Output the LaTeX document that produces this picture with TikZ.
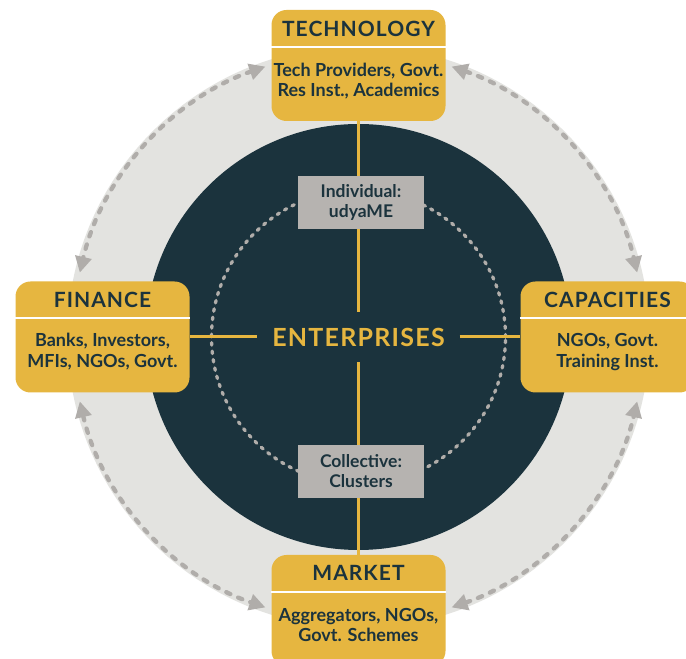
\documentclass[tikz,border=0pt]{standalone}
\usepackage{fontspec}
\setmainfont{Lato}
\newfontfamily\titlefont[LetterSpace=5]{Lato}
\newfontfamily\entfont[LetterSpace=5]{Lato}
\usetikzlibrary{arrows.meta}
\definecolor{darkc}{HTML}{1B333D}
\definecolor{yellowc}{HTML}{E6B640}
\definecolor{ringc}{HTML}{E3E3E0}
\definecolor{graybox}{HTML}{B6B3B0}
\definecolor{dashc}{HTML}{B0ADAA}
\begin{document}
\begin{tikzpicture}[x=1pt,y=1pt,
  mainbox/.style={fill=yellowc, rounded corners=15pt, minimum width=174pt, minimum height=111pt, inner sep=0pt},
  titletext/.style={text=darkc, font=\titlefont\bfseries\fontsize{21}{24}\selectfont, inner sep=0pt},
  bodytext/.style={text=darkc, font=\bfseries\fontsize{18}{20.5}\selectfont, align=center, inner sep=0pt},
  sepline/.style={draw=white, line width=2pt},
  subbox/.style={fill=graybox, minimum width=126pt, minimum height=53pt, inner sep=0pt, text=darkc, font=\bfseries\fontsize{17.5}{20}\selectfont, align=center},
  crossline/.style={draw=yellowc, line width=3pt},
  innerdash/.style={draw=dashc, line width=3.3pt, line cap=round, dash pattern=on 2.5pt off 6pt},
  arrowarc/.style={draw=dashc, line width=4.3pt, line cap=round, dash pattern=on 4.5pt off 8.5pt,
    {Triangle[length=16pt,width=16pt,fill=dashc]}-{Triangle[length=16pt,width=16pt,fill=dashc]}}
]
\useasboundingbox (0,0) rectangle (686,659);
\fill[white] (0,0) rectangle (686,659);
\coordinate (C) at (358.5,322);
% discs
\fill[ringc] (C) circle[radius=291pt];
\fill[darkc] (C) circle[radius=213pt];
\draw[innerdash] (C) circle[radius=147pt];
% arcs
\draw[arrowarc] ([shift={(71:286pt)}]C) arc[start angle=71, end angle=13, radius=286pt];
\draw[arrowarc] ([shift={(109:286pt)}]C) arc[start angle=109, end angle=167, radius=286pt];
\draw[arrowarc] ([shift={(193:286pt)}]C) arc[start angle=193, end angle=251, radius=286pt];
\draw[arrowarc] ([shift={(289:286pt)}]C) arc[start angle=289, end angle=347, radius=286pt];
% main boxes
\node[mainbox] (tech) at (358.5,593.5) {};
\node[mainbox] (market) at (358.5,48.5) {};
\node[mainbox] (finance) at (102.5,322) {};
\node[mainbox] (capac) at (607.5,322) {};
% center
\node[inner sep=0pt, minimum width=202pt, minimum height=50pt, text=yellowc, font=\entfont\bfseries\fontsize{25}{30}\selectfont] (ent) at (C) {ENTERPRISES};
\draw[crossline] (tech.south) -- (ent.north);
\draw[crossline] (ent.south) -- (market.north);
\draw[crossline] (finance.east) -- (ent.west);
\draw[crossline] (ent.east) -- (capac.west);
\node[subbox] (indiv) at (361,456.5) {Individual:\\udyaME};
\node[subbox] (coll) at (361,187.5) {Collective:\\Clusters};
% separators
\foreach \b in {tech,market,finance,capac}{
  \draw[sepline] ([yshift=-37pt]\b.north west) -- ([yshift=-37pt]\b.north east);
}
% titles
\node[titletext, anchor=base] (techT) at ([yshift=-27pt]tech.north) {TECHNOLOGY};
\node[titletext, anchor=base] (marketT) at ([yshift=-26pt]market.north) {MARKET};
\node[titletext, anchor=base] (financeT) at ([yshift=-26pt]finance.north) {FINANCE};
\node[titletext, anchor=base] (capacT) at ([yshift=-26pt]capac.north) {CAPACITIES};
% bodies (base = last line baseline)
\node[bodytext, anchor=base] (techB) at ([yshift=-87pt]tech.north) {Tech Providers, Govt.\\Res Inst., Academics};
\node[bodytext, anchor=base] (marketB) at ([yshift=-87pt]market.north) {Aggregators, NGOs,\\Govt. Schemes};
\node[bodytext, anchor=base] (financeB) at ([yshift=-86pt]finance.north) {Banks, Investors,\\MFIs, NGOs, Govt.};
\node[bodytext, anchor=base] (capacB) at ([yshift=-86pt]capac.north) {NGOs, Govt.\\Training Inst.};
\end{tikzpicture}
\end{document}
